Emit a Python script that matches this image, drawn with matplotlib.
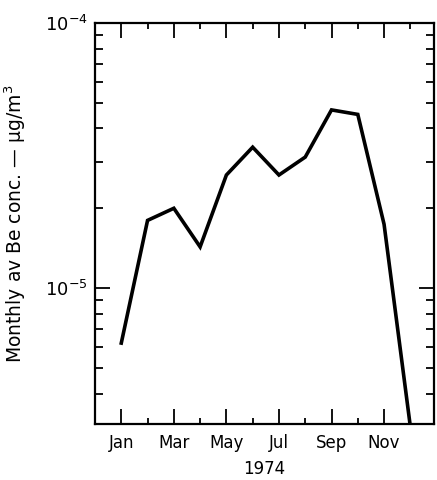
import matplotlib
matplotlib.use("Agg")
import matplotlib.pyplot as plt
from matplotlib.ticker import LogLocator, FixedLocator, NullFormatter


MONTHS = ["Jan", "Feb", "Mar", "Apr", "May", "Jun", "Jul", "Aug", "Sep", "Oct", "Nov", "Dec"]
MONTH_NUM = [1, 2, 3, 4, 5, 6, 7, 8, 9, 10, 11, 12]
BE_CONC = [6.2e-6, 1.80e-5, 2.0e-5, 1.43e-5, 2.67e-5, 3.40e-5, 2.67e-5, 3.12e-5, 4.70e-5, 4.52e-5, 1.74e-5, 3.0e-6]

LABELED_MONTHS = [1, 3, 5, 7, 9, 11]
LABELED_NAMES = ["Jan", "Mar", "May", "Jul", "Sep", "Nov"]
MINOR_MONTHS = [2, 4, 6, 8, 10, 12]


def main() -> None:
    plt.rcParams["font.family"] = ["DejaVu Sans"]

    fig = plt.figure(figsize=(4.37, 4.8), dpi=100)
    ax = fig.add_axes([95 / 437, 1 - 424 / 480, (434 - 95) / 437, (424 - 23) / 480])

    ax.plot(MONTH_NUM, BE_CONC, color="black", linewidth=2.6, solid_joinstyle="miter")

    ax.set_yscale("log")
    ax.set_ylim(3.07e-6, 1e-4)
    ax.set_xlim(0.0, 12.9)

    ax.xaxis.set_major_locator(FixedLocator(LABELED_MONTHS))
    ax.set_xticklabels(LABELED_NAMES)
    ax.xaxis.set_minor_locator(FixedLocator(MINOR_MONTHS))

    ax.yaxis.set_major_locator(LogLocator(base=10))
    ax.yaxis.set_minor_locator(LogLocator(base=10, subs=range(2, 10)))
    ax.yaxis.set_minor_formatter(NullFormatter())

    for side in ax.spines.values():
        side.set_linewidth(1.6)

    ax.tick_params(axis="both", which="both", direction="in", top=True, right=True, colors="black")
    ax.tick_params(axis="x", which="major", length=11, width=1.3, labelsize=12, pad=7)
    ax.tick_params(axis="x", which="minor", length=4, width=1.3)
    ax.tick_params(axis="y", which="major", length=11, width=1.3, labelsize=13, pad=5)
    ax.tick_params(axis="y", which="minor", length=6, width=1.3)

    ax.set_xlabel("1974", fontsize=12, labelpad=6)
    ax.set_ylabel("Monthly av Be conc. \u2014 \u03bcg/m$^3$", fontsize=13.5)
    ax.yaxis.set_label_coords((28 - 95) / 339, 0.5)

    fig.savefig("out.png", dpi=100)
    plt.close(fig)


if __name__ == "__main__":
    main()
